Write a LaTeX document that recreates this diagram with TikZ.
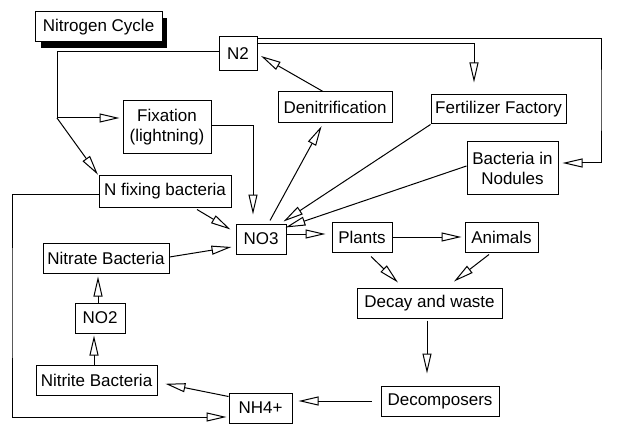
\documentclass[tikz,border=0pt]{standalone}
\usepackage{fontspec}
\setmainfont{Liberation Sans}
\usetikzlibrary{arrows.meta,calc}
\begin{document}
\begin{tikzpicture}[x=1pt,y=-1pt,
  box/.style={draw,line width=1pt,rectangle,inner sep=0pt,fill=white,align=center,
    font=\fontsize{17}{20}\selectfont},
  arr/.style={line width=1pt,-{Triangle[open,length=20pt,width=9pt,line width=1pt]}},
  ln/.style={line width=1pt}]
\useasboundingbox (0,0) rectangle (640,441);
% title with shadow
\fill[black] (41,18) rectangle (167,48);
\node[box,minimum width=127pt,minimum height=30pt] (title) at (98.5,27) {Nitrogen Cycle};
% nodes
\node[box,minimum width=38pt,minimum height=34pt] (N2) at (238,54) {N2};
\node[box,minimum width=88pt,minimum height=53pt] (Fix) at (167,127.5) {Fixation\\(lightning)};
\node[box,minimum width=114pt,minimum height=31pt] (Den) at (335,107.5) {Denitrification};
\node[box,minimum width=135pt,minimum height=29pt] (Fert) at (498.5,109.5) {Fertilizer Factory};
\node[box,minimum width=91pt,minimum height=52pt] (BiN) at (512.5,168) {Bacteria in\\Nodules};
\node[box,minimum width=132pt,minimum height=31pt] (NFix) at (165,191.5) {N fixing bacteria};
\node[box,minimum width=50pt,minimum height=30pt] (NO3) at (261,239) {NO3};
\node[box,minimum width=60pt,minimum height=30pt] (Plants) at (362,237) {Plants};
\node[box,minimum width=73pt,minimum height=30pt] (Animals) at (501.5,237) {Animals};
\node[box,minimum width=145pt,minimum height=30pt] (Decay) at (429.5,303) {Decay and waste};
\node[box,minimum width=118pt,minimum height=30pt] (Decomp) at (440,401) {Decomposers};
\node[box,minimum width=63pt,minimum height=30pt] (NH4) at (260.5,408) {NH4+};
\node[box,minimum width=121pt,minimum height=30pt] (Nitrite) at (96.5,380) {Nitrite Bacteria};
\node[box,minimum width=50pt,minimum height=30pt] (NO2) at (100,318) {NO2};
\node[box,minimum width=126pt,minimum height=30pt] (Nitrate) at (106,258) {Nitrate Bacteria};
% helper coordinates
\coordinate (j) at (57,118);
\coordinate (c1) at (601,100);
\coordinate (L) at (12,300);
\coordinate (o3) at ([yshift=5pt]NO3.east);
\coordinate (d1) at ([xshift=-9pt]Decomp.west);
\coordinate (f1) at ([xshift=-2.5pt]Decay.south);
\coordinate (n1) at ([xshift=-2.5pt]Nitrite.north);
\coordinate (n2) at ([xshift=-2pt]NO2.north);
% connectors
\draw[ln] ([yshift=2pt]N2.west) -| (j);
\draw[arr,shorten >=3pt] (j) -- (j -| Fix.west);
\draw[arr,shorten >=1pt] (j) -- (NFix.north west);
\draw[arr,shorten >=9pt] ([yshift=1.5pt]Fix.east) -| ([xshift=-8pt]NO3.north);
\draw[arr,shorten >=3pt] ([xshift=9pt,yshift=3pt]NO3.north) -- ([xshift=-12pt]Den.south);
\draw[arr,shorten >=4pt] ([xshift=-12pt]Den.north) -- (N2.east);
\draw[arr,shorten >=4pt] ([yshift=15pt]N2.east) -| (c1) |- ([yshift=5pt]BiN.east);
\draw[arr,shorten >=12pt] ([yshift=10pt]N2.east) -| ([xshift=-24.5pt]Fert.north);
\draw[arr] (Fert.south west) -- ([xshift=-3pt,yshift=2pt]NO3.north east);
\draw[arr] ([yshift=2pt]BiN.west) -- ([xshift=-1pt,yshift=-4pt]NO3.north east);
\draw[arr,shorten >=6pt] (o3) -- (o3 -| Plants.west);
\draw[arr,shorten >=3pt] (Plants.east) -- (Animals.west);
\draw[arr] ([xshift=9pt,yshift=-4pt]Plants.south) -- ([xshift=-31.5pt,yshift=5pt]Decay.north);
\draw[arr] ([xshift=-12.5pt,yshift=-2pt]Animals.south) -- ([xshift=24.5pt,yshift=6pt]Decay.north);
\draw[arr,shorten >=12pt] ([yshift=-2pt]f1) -- (f1 |- Decomp.north);
\draw[arr,shorten >=6pt] (d1) -- (d1 -| NH4.east);
\draw[arr,shorten >=4pt] ([yshift=-4pt]NH4.north west) -- ([xshift=4pt,yshift=-3pt]Nitrite.east);
\draw[arr,shorten >=2pt] ([yshift=-2.5pt]NFix.west) -| (L) |- ([yshift=-9pt]NH4.west);
\draw[arr,shorten >=2pt] (n1) -- (n1 |- NO2.south);
\draw[arr,shorten >=3pt] (n2) -- (n2 |- Nitrate.south);
\draw[arr] ([yshift=1pt]Nitrate.east) -- ([xshift=-4pt,yshift=-8pt]NO3.west);
\draw[arr] ([xshift=32pt,yshift=-2pt]NFix.south) -- ([xshift=-5pt,yshift=-6pt]NO3.north west);
\end{tikzpicture}
\end{document}
